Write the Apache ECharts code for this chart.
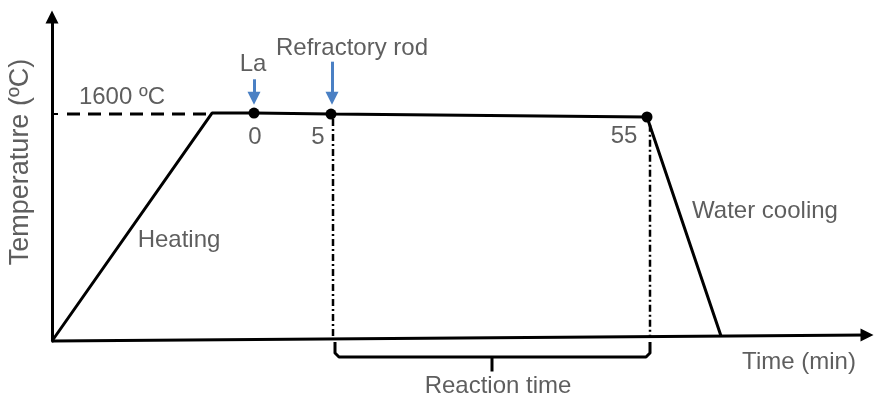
<!DOCTYPE html>
<html><head><meta charset="utf-8">
<script src="https://cdn.jsdelivr.net/npm/echarts@6/dist/echarts.min.js"></script>
<style>html,body{margin:0;padding:0;background:#fff}#c{width:874px;height:397px}</style>
</head><body><div id="c"></div>
<script>
// ---- Data (time axis in schematic units, not to scale; temperature in ºC) ----
const profileTime = [0, 160, 202, 279, 595, 669];
const profileTemp = [0, 1607, 1607, 1600, 1579, 35];
const eventTime = [202, 279, 595];
const eventTemp = [1607, 1600, 1579];
const eventLabels = ['0', '5', '55'];
const additionNames = ['La', 'Refractory rod'];
const setpointTemp = 1600;
const setpointLabel = '1600 ºC';
const stageNames = ['Heating', 'Water cooling'];
const axisNames = ['Time (min)', 'Temperature (ºC)'];
const bracketName = 'Reaction time';
const timeAxisEnd = [815, 42];

// ---- Layout / style ----
const X_MAX = 822, Y_MAX = 2284;
const FONT = "'Liberation Sans', Arial, sans-serif";
const TXT = '#363636';
const BLUE = '#4a80c4';

const zip = (a, b) => a.map((v, i) => [v, b[i]]);

const labelSpecs = [
  { t: setpointLabel, p: [70, 1715] },
  { t: additionNames[0], p: [201, 1950] },
  { t: additionNames[1], p: [300, 2065] },
  { t: eventLabels[0], p: [eventTime[0] + 1, 1433] },
  { t: eventLabels[1], p: [eventTime[1] - 13, 1433] },
  { t: eventLabels[2], p: [eventTime[2] - 23, 1440] },
  { t: stageNames[0], p: [127, 706] },
  { t: stageNames[1], p: [713, 911] },
  { t: axisNames[0], p: [747, -150] },
  { t: axisNames[1], p: [-31, 1262], r: 90, s: 27 },
  { t: bracketName, p: [446, -322] }
];

const bx0 = eventTime[1] + 4, bx1 = eventTime[2] + 3, bTop = -7, bBot = -113, bCorner = -85;
const bMid = 440;

const chart = echarts.init(document.getElementById('c'));
chart.setOption({
  animation: false,
  grid: { left: 52, right: 0, top: 17, bottom: 56 },
  xAxis: { type: 'value', min: 0, max: X_MAX, show: false },
  yAxis: {
    type: 'value', min: 0, max: Y_MAX,
    axisLine: { show: true, lineStyle: { color: '#000', width: 3 }, symbol: ['none', 'triangle'], symbolSize: [13, 13] },
    axisTick: { show: true, inside: true, length: 6, lineStyle: { color: '#000', width: 2 }, customValues: [setpointTemp] },
    axisLabel: { show: false },
    splitLine: { show: false }
  },
  series: [
    { name: 'profile', type: 'line', data: zip(profileTime, profileTemp), symbol: 'none', clip: false, z: 4,
      lineStyle: { color: '#000', width: 3 } },
    { name: 'setpoint', type: 'line', data: [[15, setpointTemp], [155, setpointTemp]], symbol: 'none', clip: false,
      lineStyle: { color: '#000', width: 3, type: [13, 8] } },
    { name: 'start', type: 'line', data: [[eventTime[1] + 2, 1565], [eventTime[1] + 2, 14]], symbol: 'none', clip: false,
      lineStyle: { color: '#000', width: 2.5, type: [7, 3, 2, 3] } },
    { name: 'end', type: 'line', data: [[eventTime[2] + 3, 1525], [eventTime[2] + 3, 31]], symbol: 'none', clip: false,
      lineStyle: { color: '#000', width: 2.5, type: [7, 3, 2, 3] } },
    { name: 'bracket', type: 'line', symbol: 'none', clip: false,
      data: [[bx0, bTop], [bx0, bCorner], [bx0 + 4, bBot], [bx1 - 4, bBot], [bx1, bCorner], [bx1, bTop]],
      lineStyle: { color: '#000', width: 3, join: 'round' } },
    { name: 'bracketTick', type: 'line', symbol: 'none', clip: false,
      data: [[bMid, bBot], [bMid, -215]], lineStyle: { color: '#000', width: 3 } },
    { name: 'events', type: 'scatter', data: zip(eventTime, eventTemp), symbolSize: 11, clip: false, z: 6,
      itemStyle: { color: '#000', opacity: 1 } },
    { name: 'timeAxis', type: 'line', data: [[0, 0], timeAxisEnd], symbol: 'none', clip: false,
      lineStyle: { color: '#000', width: 3 } },
    { name: 'timeArrow', type: 'scatter', data: [timeAxisEnd], symbol: 'triangle', symbolSize: 13, symbolRotate: -90,
      clip: false, itemStyle: { color: '#000', opacity: 1 } },
    { name: 'arrows', type: 'line', data: [], clip: false,
      markLine: {
        silent: true, symbol: ['none', 'triangle'], symbolSize: [1, 13], label: { show: false },
        data: [
          [{ coord: [eventTime[0], 1845] }, { coord: [eventTime[0], 1712], symbolSize: 13, lineStyle: { color: BLUE, width: 3, type: 'solid' }, itemStyle: { color: BLUE } }],
          [{ coord: [eventTime[1] + 1, 1969] }, { coord: [eventTime[1] + 1, 1712], symbolSize: 13, lineStyle: { color: BLUE, width: 3, type: 'solid' }, itemStyle: { color: BLUE } }]
        ]
      } },
    { name: 'labels', type: 'scatter', clip: false, symbolSize: 1, z: 10,
      itemStyle: { color: 'rgba(0,0,0,0)' },
      data: labelSpecs.map(s => ({ value: s.p, label: { show: true, position: 'inside', formatter: s.t, rotate: s.r || 0,
        fontFamily: FONT, fontSize: s.s || 24, color: TXT, align: 'center', verticalAlign: 'middle' } })) }
  ]
});
</script></body></html>
